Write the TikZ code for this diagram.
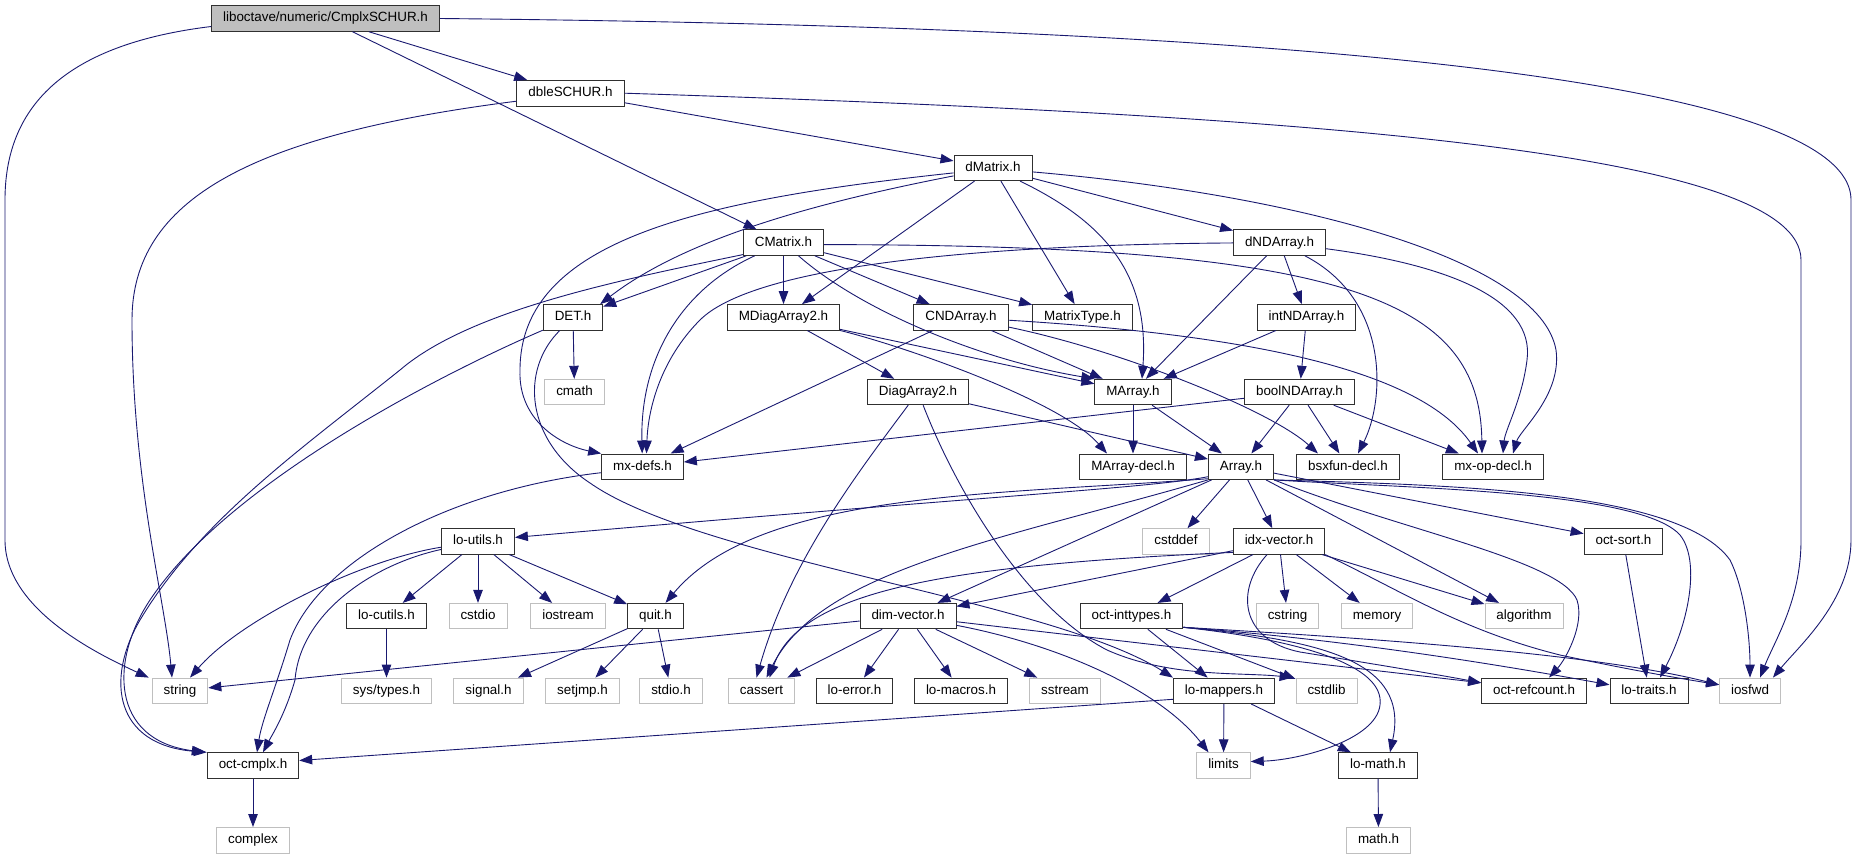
\documentclass[tikz,border=0pt]{standalone}
\usepackage{fontspec}
\setmainfont{Liberation Sans}
\usetikzlibrary{arrows.meta}
\definecolor{edgeblue}{RGB}{25,25,112}
\definecolor{greybox}{RGB}{191,191,191}
\definecolor{darkbox}{RGB}{48,48,48}
\tikzset{
  hdr/.style={draw=darkbox, fill=white, line width=0.9pt, minimum height=25.5pt, inner xsep=11.5pt, inner ysep=0pt, text height=9.8pt, text depth=2.9pt, font=\fontsize{13.4}{16}\selectfont},
  ext/.style={hdr, draw=greybox},
  root/.style={hdr, fill=greybox},
  conn/.style={draw=edgeblue, line width=0.9pt, -{Triangle[length=13pt,width=9.5pt]}},
}
\begin{document}
\begin{tikzpicture}[x=1pt,y=-1pt]
\useasboundingbox (0,0) rectangle (1857,859);
% rank 0-3
\node[root] (cs) at (325.5,18.5) {liboctave/numeric/CmplxSCHUR.h};
\node[hdr] (dbl) at (570.5,93.2) {dbleSCHUR.h};
\node[hdr] (dmat) at (993,167.9) {dMatrix.h};
\node[hdr] (cmat) at (783.5,242.6) {CMatrix.h};
\node[hdr] (dnd) at (1279.5,242.6) {dNDArray.h};
% rank 4
\node[hdr] (det) at (573,317.3) {DET.h};
\node[hdr] (mdiag) at (783.5,317.3) {MDiagArray2.h};
\node[hdr] (cnd) at (961,317.3) {CNDArray.h};
\node[hdr] (mtype) at (1082.5,317.3) {MatrixType.h};
\node[hdr] (intnd) at (1306.5,317.3) {intNDArray.h};
% rank 5
\node[ext] (cmath) at (574.5,392) {cmath};
\node[hdr] (diag) at (918,392) {DiagArray2.h};
\node[hdr] (marr) at (1133,392) {MArray.h};
\node[hdr] (boolnd) at (1299.5,392) {boolNDArray.h};
% rank 6
\node[hdr] (mxdefs) at (642.5,466.7) {mx-defs.h};
\node[hdr] (marrdecl) at (1133,466.7) {MArray-decl.h};
\node[hdr] (arr) at (1241,466.7) {Array.h};
\node[hdr] (bsx) at (1348,466.7) {bsxfun-decl.h};
\node[hdr] (mxop) at (1493,466.7) {mx-op-decl.h};
% rank 7
\node[hdr] (loutils) at (478,541.4) {lo-utils.h};
\node[ext] (cstddef) at (1176,541.4) {cstddef};
\node[hdr] (idx) at (1279,541.4) {idx-vector.h};
\node[hdr] (osort) at (1623.5,541.4) {oct-sort.h};
% rank 8
\node[hdr] (locutils) at (386.5,616.1) {lo-cutils.h};
\node[ext] (cstdio) at (478,616.1) {cstdio};
\node[ext] (iostream) at (568,616.1) {iostream};
\node[hdr] (quit) at (655.5,616.1) {quit.h};
\node[hdr] (dimv) at (908,616.1) {dim-vector.h};
\node[hdr] (oint) at (1131.5,616.1) {oct-inttypes.h};
\node[ext] (cstring) at (1287.5,616.1) {cstring};
\node[ext] (memory) at (1377,616.1) {memory};
\node[ext] (algorithm) at (1524,616.1) {algorithm};
% rank 9
\node[ext] (string) at (180,690.8) {string};
\node[ext] (systypes) at (386.5,690.8) {sys/types.h};
\node[ext] (signal) at (488.5,690.8) {signal.h};
\node[ext] (setjmp) at (582.5,690.8) {setjmp.h};
\node[ext] (stdio) at (671,690.8) {stdio.h};
\node[ext] (cassert) at (761.5,690.8) {cassert};
\node[hdr] (loerror) at (854.5,690.8) {lo-error.h};
\node[hdr] (lomacros) at (961,690.8) {lo-macros.h};
\node[ext] (sstream) at (1065,690.8) {sstream};
\node[hdr] (lomap) at (1224,690.8) {lo-mappers.h};
\node[ext] (cstdlib) at (1326.5,690.8) {cstdlib};
\node[hdr] (orefc) at (1534,690.8) {oct-refcount.h};
\node[hdr] (lotraits) at (1649,690.8) {lo-traits.h};
\node[ext] (iosfwd) at (1750,690.8) {iosfwd};
% rank 10-11
\node[hdr] (ocmplx) at (253,765.5) {oct-cmplx.h};
\node[ext] (limits) at (1223.5,765.5) {limits};
\node[hdr] (lomath) at (1378,765.5) {lo-math.h};
\node[ext] (complex) at (253,840.2) {complex};
\node[ext] (mathh) at (1378.5,840.2) {math.h};

% CmplxSCHUR.h
\draw[conn] (cs) -- (dbl);
\draw[conn] (cs) -- (cmat);
\draw[conn] ([yshift=-8pt]cs.west) .. controls (60,45) and (5,110) .. (5,200) -- (5,540) .. controls (5,610) and (100,655) .. ([xshift=-3pt]string.north west);
\draw[conn] (cs.east) .. controls (1100,25) and (1851,60) .. (1851,200) -- (1851,540) .. controls (1851,600) and (1800,645) .. ([xshift=-8pt]iosfwd.north east);
% dbleSCHUR.h
\draw[conn] ([yshift=-8pt]dbl.west) .. controls (250,135) and (132,200) .. (132,320) .. controls (132,480) and (165,600) .. ([xshift=-8pt]string.north);
\draw[conn] (dbl) -- (dmat);
\draw[conn] (dbl.east) .. controls (1300,115) and (1801,150) .. (1801,260) -- (1801,540) .. controls (1801,600) and (1775,640) .. ([xshift=10pt]iosfwd.north);
% dMatrix.h
\draw[conn] ([yshift=-8pt]dmat.west) .. controls (830,200) and (690,235) .. ([xshift=-3pt]det.north east);
\draw[conn] ([yshift=-5pt]dmat.west) .. controls (700,200) and (520,240) .. (520,370) .. controls (518,420) and (560,445) .. (mxdefs.north west);
\draw[conn] (dmat) -- (mdiag);
\draw[conn] (dmat) -- (mtype);
\draw[conn] (dmat) .. controls (1100,220) and (1150,270) .. ([xshift=9pt]marr.north);
\draw[conn] (dmat) -- (dnd);
\draw[conn] ([yshift=-4pt]dmat.east) .. controls (1300,195) and (1540,260) .. (1556,350) .. controls (1562,395) and (1520,430) .. ([xshift=20pt]mxop.north);
% CMatrix.h
\draw[conn] (cmat) -- (det);
\draw[conn] ([yshift=-12pt]cmat.west) .. controls (620,280) and (470,310) .. (400,370) .. controls (300,450) and (200,520) .. (140,620) .. controls (105,680) and (115,745) .. (ocmplx.north west);
\draw[conn] (cmat) .. controls (680,290) and (640,360) .. (mxdefs);
\draw[conn] (cmat) -- (mdiag);
\draw[conn] (cmat) .. controls (860,310) and (980,360) .. (marr.north west);
\draw[conn] (cmat) -- (cnd);
\draw[conn] (cmat) -- (mtype);
\draw[conn] ([yshift=-2pt]cmat.east) .. controls (1350,245) and (1480,300) .. ([xshift=-11pt]mxop.north);
% dNDArray.h
\draw[conn] (dnd) .. controls (950,245) and (750,270) .. (700,320) .. controls (660,360) and (648,410) .. ([xshift=4pt]mxdefs.north);
\draw[conn] (dnd) -- (marr);
\draw[conn] (dnd) -- (intnd);
\draw[conn] (dnd) .. controls (1390,300) and (1385,400) .. ([xshift=10pt]bsx.north);
\draw[conn] (dnd) .. controls (1450,265) and (1535,300) .. (1527,360) .. controls (1522,400) and (1505,430) .. ([xshift=10pt]mxop.north);
% DET.h
\draw[conn] (det) -- (cmath);
\draw[conn] (det) .. controls (450,370) and (230,480) .. (150,600) .. controls (110,660) and (110,740) .. ([xshift=-2pt]ocmplx.north west);
\draw[conn] (det) .. controls (520,370) and (525,440) .. (590,483) .. controls (700,560) and (1050,600) .. (lomap.north west);
% MDiagArray2.h
\draw[conn] (mdiag) -- (diag);
\draw[conn] (mdiag) -- (marr);
\draw[conn] (mdiag.south east) .. controls (900,345) and (1060,400) .. ([xshift=-26pt]marrdecl.north);
% CNDArray.h
\draw[conn] (cnd) -- (mxdefs);
\draw[conn] (cnd) -- (marr);
\draw[conn] (cnd) .. controls (1120,350) and (1270,410) .. ([xshift=-30pt]bsx.north);
\draw[conn] (cnd) .. controls (1250,335) and (1420,370) .. ([xshift=-15pt]mxop.north);
% intNDArray.h
\draw[conn] (intnd) -- (marr);
\draw[conn] (intnd) -- (boolnd);
% DiagArray2.h
\draw[conn] (diag) .. controls (860,470) and (790,560) .. ([xshift=-5pt]cassert.north);
\draw[conn] (diag) -- (arr);
\draw[conn] (diag) .. controls (960,500) and (1030,610) .. (1107,650) .. controls (1170,678) and (1240,672) .. ([xshift=-3pt]cstdlib.north west);
% MArray.h
\draw[conn] (marr) -- (marrdecl);
\draw[conn] (marr) -- (arr);
% boolNDArray.h
\draw[conn] (boolnd) -- (mxdefs);
\draw[conn] (boolnd) -- (arr);
\draw[conn] (boolnd) -- (bsx);
\draw[conn] (boolnd) -- (mxop);
% mx-defs.h
\draw[conn] ([yshift=-6pt]mxdefs.west) .. controls (450,490) and (320,560) .. (290,640) .. controls (275,690) and (262,720) .. ([xshift=4pt]ocmplx.north);
% Array.h
\draw[conn] ([yshift=-10pt]arr.west) .. controls (1150,488) and (1000,495) .. ([yshift=4pt]loutils.east);
\draw[conn] ([yshift=-12pt]arr.west) .. controls (1000,495) and (760,490) .. ([xshift=10pt]quit.north);
\draw[conn] (arr) -- (dimv);
\draw[conn] (arr) -- (cstddef);
\draw[conn] (arr) -- (idx);
\draw[conn] (arr.south west) .. controls (1000,540) and (820,570) .. ([xshift=5pt]cassert.north);
\draw[conn] (arr) -- (algorithm);
\draw[conn] (arr) .. controls (1400,530) and (1560,560) .. (1577,600) .. controls (1585,625) and (1565,660) .. ([xshift=15pt]orefc.north);
\draw[conn] (arr) -- (osort);
\draw[conn] (arr.south east) .. controls (1400,488) and (1640,490) .. (1680,535) .. controls (1700,560) and (1690,620) .. ([xshift=11pt]lotraits.north);
\draw[conn] (arr.south east) .. controls (1450,485) and (1680,490) .. (1730,560) .. controls (1745,590) and (1750,640) .. (iosfwd.north);
% idx-vector.h
\draw[conn] ([yshift=-11pt]idx.west) .. controls (950,565) and (800,590) .. ([xshift=8pt]cassert.north);
\draw[conn] (idx) -- (dimv);
\draw[conn] (idx) -- (oint);
\draw[conn] (idx) -- (cstring);
\draw[conn] (idx) -- (memory);
\draw[conn] (idx) -- (algorithm);
\draw[conn] (idx.south east) .. controls (1400,590) and (1460,630) .. (1560,655) .. controls (1640,672) and (1690,680) .. ([yshift=6pt]iosfwd.west);
\draw[conn] (idx) .. controls (1235,590) and (1240,640) .. (1300,652) .. controls (1380,665) and (1440,675) .. ([yshift=8pt]orefc.west);
% oct-sort.h
\draw[conn] (osort) -- (lotraits);
% lo-utils.h
\draw[conn] (loutils) .. controls (360,560) and (240,620) .. ([xshift=10pt]string.north);
\draw[conn] (loutils) .. controls (370,565) and (300,615) .. (295,680) .. controls (285,715) and (272,735) .. ([xshift=10pt]ocmplx.north);
\draw[conn] (loutils) -- (locutils);
\draw[conn] (loutils) -- (cstdio);
\draw[conn] (loutils) -- (iostream);
\draw[conn] (loutils) -- (quit);
% lo-cutils.h, quit.h
\draw[conn] (locutils) -- (systypes);
\draw[conn] (quit) -- (signal);
\draw[conn] (quit) -- (setjmp);
\draw[conn] (quit) -- (stdio);
% dim-vector.h
\draw[conn] (dimv) -- (string);
\draw[conn] (dimv) -- (cassert);
\draw[conn] (dimv) -- (loerror);
\draw[conn] (dimv) -- (lomacros);
\draw[conn] (dimv) -- (sstream);
\draw[conn] (dimv) -- ([yshift=8pt]orefc.west);
\draw[conn] (dimv) .. controls (1060,645) and (1160,690) .. ([xshift=-15pt]limits.north);
% oct-inttypes.h
\draw[conn] (oint) -- (lomap);
\draw[conn] (oint) -- (cstdlib);
\draw[conn] ([yshift=2pt]oint.south east) .. controls (1300,640) and (1385,665) .. (1380,705) .. controls (1376,740) and (1300,760) .. ([yshift=4pt]limits.east);
\draw[conn] ([yshift=2pt]oint.south east) .. controls (1320,640) and (1410,660) .. ([xshift=12pt]lomath.north);
\draw[conn] ([yshift=2pt]oint.south east) .. controls (1350,640) and (1500,665) .. ([yshift=6pt]lotraits.west);
\draw[conn] ([yshift=2pt]oint.south east) .. controls (1400,640) and (1600,655) .. ([yshift=6pt]iosfwd.west);
% lo-mappers.h
\draw[conn] ([yshift=-8.5pt]lomap.west) -- ([yshift=5pt]ocmplx.east);
\draw[conn] (lomap) -- (limits);
\draw[conn] (lomap) -- (lomath);
% leaves
\draw[conn] (lomath) -- (mathh);
\draw[conn] (ocmplx) -- (complex);
\end{tikzpicture}
\end{document}
